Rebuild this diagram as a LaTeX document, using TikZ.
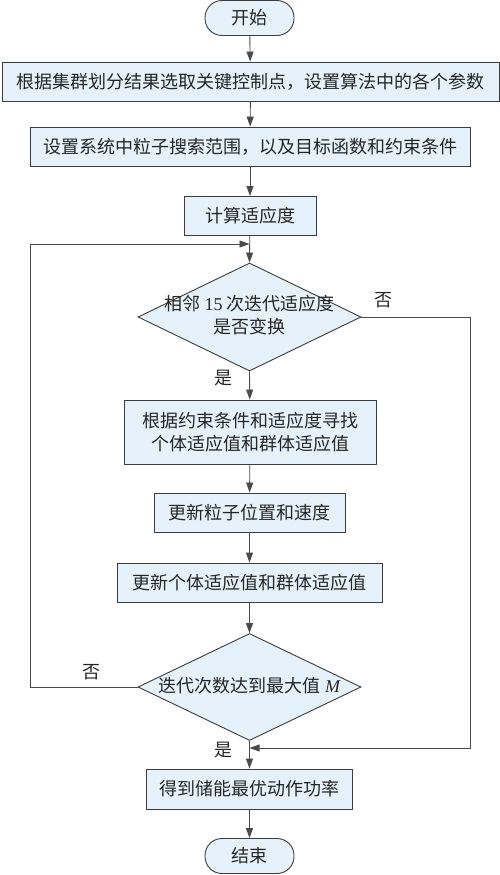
\documentclass[tikz,border=0pt]{standalone}
\usepackage{fontspec}
\setmainfont{Liberation Serif}
\newfontfamily\cjk{Noto Sans CJK SC}
\usetikzlibrary{arrows.meta,shapes.geometric}
\definecolor{boxfill}{HTML}{E6F2FB}
\definecolor{boxline}{HTML}{3C3C3C}
\definecolor{conn}{HTML}{4A4A4A}
\begin{document}
\begin{tikzpicture}[x=1pt,y=-1pt,
  every node/.style={font=\cjk\fontsize{18}{23.5}\selectfont, text=black!85},
  proc/.style={draw=boxline, fill=boxfill, line width=0.9pt, inner sep=0pt, align=center},
  term/.style={proc, rounded corners=17pt},
  lbl/.style={inner sep=0pt},
  conn/.style={draw=conn, line width=0.9pt},
  arr/.style={conn, -{Triangle[length=10pt,width=7pt]}}
]
\useasboundingbox (0,0) rectangle (500,875);
% nodes
\node[term, minimum width=89pt, minimum height=35pt] (start) at (249.5,18) {开始};
\node[proc, minimum width=497pt, minimum height=39pt] (b1) at (250.5,81.5) {根据集群划分结果选取关键控制点，设置算法中的各个参数};
\node[proc, minimum width=440pt, minimum height=39pt] (b2) at (250,146.5) {设置系统中粒子搜索范围，以及目标函数和约束条件};
\node[proc, minimum width=132pt, minimum height=39pt] (b3) at (250,216) {计算适应度};
\node[draw=boxline, fill=boxfill, line width=0.9pt, diamond, aspect=2.06, inner sep=0pt, minimum width=223pt, minimum height=108pt] (d1) at (249.5,317) {};
\node[lbl, align=center] (d1t) at (249.5,315) {相邻 {\rmfamily 15} 次迭代适应度\\是否变换};
\node[proc, minimum width=252pt, minimum height=64pt] (b4) at (250,432) {根据约束条件和适应度寻找\\个体适应值和群体适应值};
\node[proc, minimum width=191pt, minimum height=39pt] (b5) at (249.5,512.5) {更新粒子位置和速度};
\node[proc, minimum width=265pt, minimum height=39pt] (b6) at (249.5,582.5) {更新个体适应值和群体适应值};
\node[draw=boxline, fill=boxfill, line width=0.9pt, diamond, aspect=2.1, inner sep=0pt, minimum width=223pt, minimum height=107pt] (d2) at (249.5,687) {};
\node[lbl] (d2t) at (249.5,686) {迭代次数达到最大值 {\rmfamily\itshape M}};
\node[proc, minimum width=206pt, minimum height=40pt] (b7) at (249.5,789) {得到储能最优动作功率};
\node[term, minimum width=89pt, minimum height=35pt] (end) at (249.5,856) {结束};
% junction coordinates
\coordinate (j1) at (249.5,244);
\coordinate (j2) at (249.5,748);
\coordinate (lc1) at (30,687);
\coordinate (lc2) at (30,244);
\coordinate (rc1) at (470,317);
\coordinate (rc2) at (470,748);
% labels
\node[lbl] (no1) at (383,300) {否};
\node[lbl] (yes1) at (223,378) {是};
\node[lbl] (no2) at (91,672) {否};
\node[lbl] (yes2) at (223,750) {是};
% connectors
\draw[arr] (start) -- (b1);
\draw[arr] (b1) -- (b2);
\draw[arr] (b2) -- (b3);
\draw[arr] (b3) -- (d1.north);
\draw[arr] (d1.south) -- (b4);
\draw[arr] (b4) -- (b5);
\draw[arr] (b5) -- (b6);
\draw[arr] (b6) -- (d2.north);
\draw[arr] (d2.south) -- (b7);
\draw[arr] (b7) -- (end);
\draw[arr] (d2.west) -- (lc1) -- (lc2) -- (j1);
\draw[arr] (d1.east) -- (rc1) -- (rc2) -- (j2);
\end{tikzpicture}
\end{document}
